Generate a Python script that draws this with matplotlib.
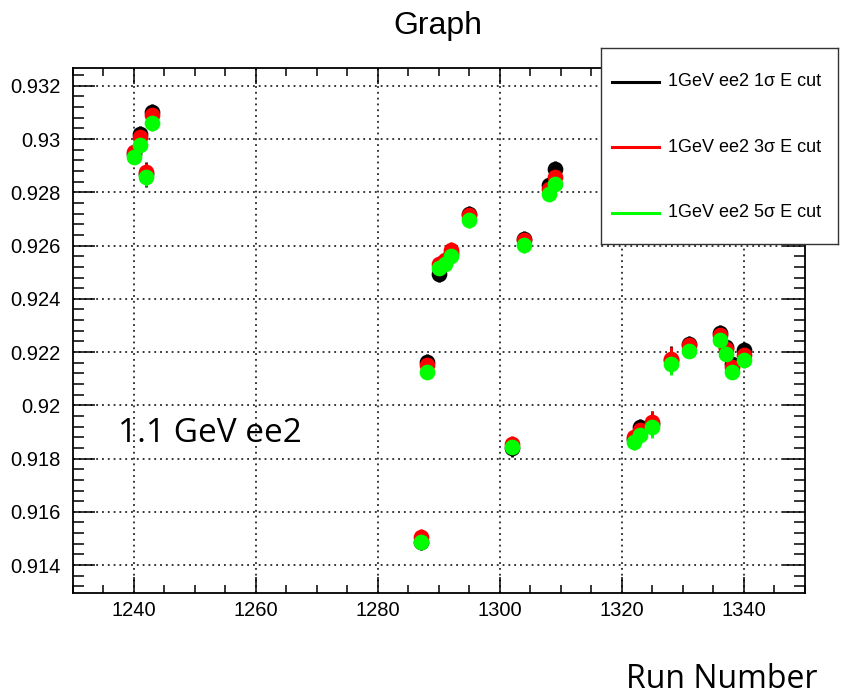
import matplotlib
matplotlib.use("Agg")
import matplotlib.pyplot as plt
from matplotlib.ticker import MultipleLocator

# Run numbers
runs = [1240, 1241, 1242, 1243, 1287, 1288, 1290, 1291, 1292, 1295, 1302, 1304,
        1308, 1309, 1322, 1323, 1325, 1328, 1331, 1336, 1337, 1338, 1340]

# 1 sigma E cut
val_1s = [0.92945, 0.93018, 0.92868, 0.93100, 0.91486, 0.92162, 0.92494, 0.92540,
          0.92572, 0.92718, 0.91840, 0.92624, 0.92827, 0.92886, 0.91875, 0.91918,
          0.91930, 0.92169, 0.92230, 0.92270, 0.92218, 0.92156, 0.92206]
err_1s = [0.00030, 0.00030, 0.00047, 0.00030, 0.00030, 0.00030, 0.00030, 0.00030,
          0.00030, 0.00030, 0.00035, 0.00030, 0.00030, 0.00030, 0.00030, 0.00030,
          0.00047, 0.00052, 0.00030, 0.00030, 0.00030, 0.00030, 0.00030]

# 3 sigma E cut
val_3s = [0.92950, 0.93009, 0.92877, 0.93090, 0.91504, 0.92150, 0.92532, 0.92545,
          0.92582, 0.92714, 0.91856, 0.92620, 0.92814, 0.92858, 0.91881, 0.91906,
          0.91937, 0.92175, 0.92225, 0.92263, 0.92213, 0.92144, 0.92188]
err_3s = [0.00030, 0.00030, 0.00033, 0.00030, 0.00030, 0.00030, 0.00030, 0.00030,
          0.00030, 0.00030, 0.00030, 0.00030, 0.00030, 0.00030, 0.00030, 0.00030,
          0.00040, 0.00045, 0.00030, 0.00030, 0.00030, 0.00030, 0.00030]

# 5 sigma E cut
val_5s = [0.92933, 0.92977, 0.92858, 0.93059, 0.91488, 0.92125, 0.92514, 0.92532,
          0.92560, 0.92695, 0.91843, 0.92601, 0.92795, 0.92833, 0.91862, 0.91887,
          0.91918, 0.92154, 0.92204, 0.92244, 0.92191, 0.92125, 0.92169]
err_5s = [0.00028, 0.00028, 0.00035, 0.00028, 0.00028, 0.00028, 0.00028, 0.00028,
          0.00028, 0.00028, 0.00028, 0.00028, 0.00028, 0.00028, 0.00028, 0.00028,
          0.00040, 0.00040, 0.00028, 0.00028, 0.00028, 0.00028, 0.00028]

labels = ["1GeV ee2 1\u03c3 E cut", "1GeV ee2 3\u03c3 E cut", "1GeV ee2 5\u03c3 E cut"]
colors = ["#000000", "#ff0000", "#00ff00"]

plt.rcParams["font.family"] = ["Liberation Sans", "DejaVu Sans"]

fig = plt.figure(figsize=(8.67, 6.95), dpi=100)
ax = fig.add_axes([72.7 / 867, 1 - 593 / 695, (805 - 72.7) / 867, (593 - 68) / 695])

for vals, errs, col in zip([val_1s, val_3s, val_5s], [err_1s, err_3s, err_5s], colors):
    ax.errorbar(runs, vals, yerr=errs, fmt="o", color=col, ms=11.3, mew=0,
                elinewidth=2.0, capsize=0, zorder=3)

ax.set_xlim(1230, 1350)
ax.set_ylim(0.91295, 0.93267)

ax.xaxis.set_major_locator(MultipleLocator(20))
ax.xaxis.set_minor_locator(MultipleLocator(5))
ax.yaxis.set_major_locator(MultipleLocator(0.002))
ax.yaxis.set_minor_locator(MultipleLocator(0.0004))


def ylab(v, pos):
    return f"{v:.3f}".rstrip("0")


ax.yaxis.set_major_formatter(plt.FuncFormatter(ylab))

ax.tick_params(axis="both", which="both", direction="in", top=True, right=True,
               labelsize=14.5, width=1.1, colors="black")
ax.tick_params(axis="x", which="major", length=11.5, pad=6)
ax.tick_params(axis="x", which="minor", length=5.8)
ax.tick_params(axis="y", which="major", length=16, pad=9)
ax.tick_params(axis="y", which="minor", length=8)

ax.grid(True, which="major", color="black", linestyle=(0, (1.2, 2.6)), linewidth=1.1)
ax.set_axisbelow(True)
for sp in ax.spines.values():
    sp.set_linewidth(1.3)

fig.text(438 / 867, 1 - 26 / 695, "Graph", ha="center", va="center", fontsize=23)

fig.text(118 / 867, 1 - 433 / 695, "1.1 GeV ee2", ha="left", va="center",
         fontsize=24, family=["Open Sans", "DejaVu Sans"])
fig.text(818 / 867, 1 - 680 / 695, "Run Number", ha="right", va="center",
         fontsize=23, family=["Open Sans", "DejaVu Sans"])

# Legend box
leg = fig.add_axes([601 / 867, 1 - 244 / 695, 237 / 867, 196 / 695])
leg.set_xlim(0, 237)
leg.set_ylim(196, 0)
leg.set_xticks([])
leg.set_yticks([])
for sp in leg.spines.values():
    sp.set_linewidth(1.0)
    sp.set_color("#333333")
leg.patch.set_facecolor("white")
row_y = [33.7, 99.3, 164.7]
for y, col, lab in zip(row_y, colors, labels):
    leg.plot([10.7, 58], [y, y], color=col, lw=2.2)
    leg.text(67, y, lab, ha="left", va="center", fontsize=13)

fig.savefig("out.png", dpi=100)
